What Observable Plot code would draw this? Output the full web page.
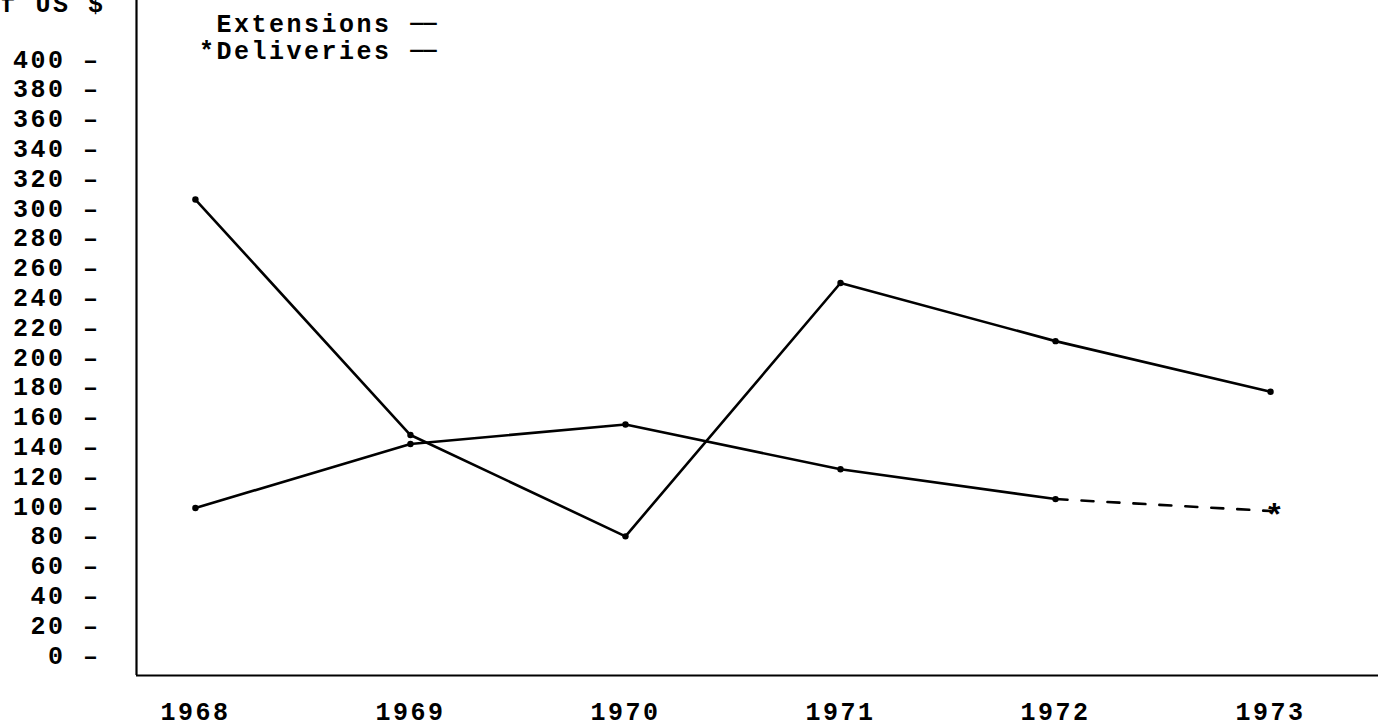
<!DOCTYPE html>
<html><head><meta charset="utf-8">
<script src="https://cdn.jsdelivr.net/npm/d3@7"></script>
<script src="https://cdn.jsdelivr.net/npm/@observablehq/plot@0.6"></script>
<style>
body{margin:0;background:#fff}
svg{display:block}
svg text{letter-spacing:2.5px}
svg .legdash text{letter-spacing:0}
</style>
</head><body><div id="chart"></div>
<script>
const years = [1968, 1969, 1970, 1971, 1972, 1973];
const extensions = [306, 148, 80, 250, 211, 177];
const deliveries = [99, 142, 155, 125, 105, 97];
const yTicks = [0,20,40,60,80,100,120,140,160,180,200,220,240,260,280,300,320,340,360,380,400];
const legendLabels = ["Extensions", "*Deliveries"];
const legendDash = "——";
const yLabel = "Millions of US $";
const projectedMark = "*";
const xDomain = [1967.726, 1973.502];
const yDomain = [-13.4, 439.6];

const ext = years.map((year, i) => ({year, value: extensions[i]}));
const del = years.map((year, i) => ({year, value: deliveries[i]}));
const font = "'Liberation Mono', 'Courier New', monospace";

const chart = Plot.plot({
  width: 1378, height: 728,
  marginLeft: 136, marginRight: 0, marginTop: 0, marginBottom: 53,
  style: {fontFamily: font, fontSize: "25px", fontWeight: "bold", background: "#fff", color: "#000"},
  x: {domain: xDomain},
  y: {domain: yDomain},
  marks: [
    Plot.axisX({ticks: years, tickFormat: d => String(d), tickSize: 0, tickPadding: 27, label: null}),
    Plot.axisY({ticks: yTicks, tickFormat: d => `${d} –`, tickSize: 0, tickPadding: 36, label: null}),
    Plot.ruleX([xDomain[0]], {stroke: "#000", strokeWidth: 2.2}),
    Plot.ruleY([yDomain[0]], {stroke: "#000", strokeWidth: 2.2}),
    Plot.line(ext, {x: "year", y: "value", stroke: "#000", strokeWidth: 2.6}),
    Plot.dot(ext, {x: "year", y: "value", r: 3.2, fill: "#000"}),
    Plot.line(del.slice(0, 5), {x: "year", y: "value", stroke: "#000", strokeWidth: 2.6}),
    Plot.line(del.slice(4), {x: "year", y: "value", stroke: "#000", strokeWidth: 2.6, strokeDasharray: "12,14"}),
    Plot.dot(del.slice(0, 5), {x: "year", y: "value", r: 3.2, fill: "#000"}),
    Plot.text(del.slice(5), {x: "year", y: "value", text: () => projectedMark, fontSize: 32, dy: 5, dx: 5}),
    Plot.text([legendLabels[0]], {frameAnchor: "top-left", dx: 255, dy: 23, textAnchor: "end", lineAnchor: "middle"}),
    Plot.text([legendLabels[1]], {frameAnchor: "top-left", dx: 255, dy: 50, textAnchor: "end", lineAnchor: "middle"}),
    Plot.text([legendDash], {className: "legdash", frameAnchor: "top-left", dx: 287, dy: 22, textAnchor: "middle", lineAnchor: "middle", fontSize: 22}),
    Plot.text([legendDash], {className: "legdash", frameAnchor: "top-left", dx: 287, dy: 49, textAnchor: "middle", lineAnchor: "middle", fontSize: 22}),
    Plot.text([yLabel], {frameAnchor: "top-left", dx: -31, dy: 11, textAnchor: "end", lineAnchor: "bottom"})
  ]
});
document.getElementById("chart").append(chart);
</script>
</body></html>
